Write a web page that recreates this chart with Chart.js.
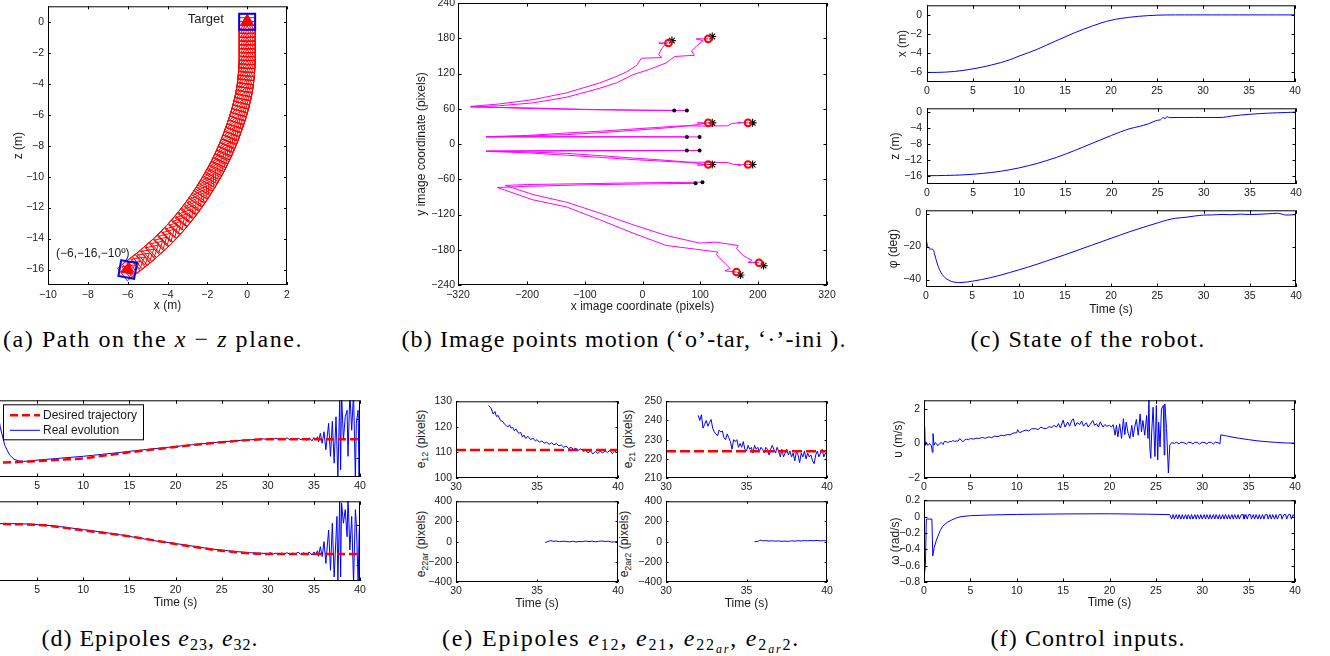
<!DOCTYPE html>
<html>
<head>
<meta charset="utf-8">
<title>Robot navigation results</title>
<script src="https://cdn.jsdelivr.net/npm/chart.js@4.4.1/dist/chart.umd.min.js"></script>
<style>
  html, body { margin:0; padding:0; background:#fff; }
  body { width:1330px; height:656px; overflow:hidden; position:relative; }
  canvas { position:absolute; }
  .cap { position:absolute; font-family:"Liberation Serif","Times New Roman",serif; font-size:24px; line-height:24px; white-space:nowrap; color:#000; }
  .cap sub { font-size:16px; line-height:0; vertical-align:-4px; }
  .cap sub sub { font-size:12px; vertical-align:-3px; }
  .ylab { position:absolute; font-family:"Liberation Sans",Arial,sans-serif; font-size:12px; line-height:14px; white-space:nowrap; color:#1a1a1a; transform:translate(-50%,-50%) rotate(-90deg); }
  .ylab sub { font-size:9px; line-height:0; vertical-align:-3px; }
</style>
</head>
<body>
<div class="cap" data-cx="153" data-w="300" data-base="347">(a) Path on the <i>x</i> − <i>z</i> plane.</div>
<div class="cap" data-cx="624" data-w="445" data-base="347">(b) Image points motion (‘o’-tar, ‘·’-ini ).</div>
<div class="cap" data-cx="1088" data-w="235" data-base="347">(c) State of the robot.</div>
<div class="cap" data-cx="150" data-w="217" data-base="646">(d) Epipoles <i>e</i><sub>23</sub>, <i>e</i><sub>32</sub>.</div>
<div class="cap" data-cx="621" data-w="358" data-base="646">(e) Epipoles <i>e</i><sub>12</sub>, <i>e</i><sub>21</sub>, <i>e</i><sub>22<sub><i>ar</i></sub></sub>, <i>e</i><sub>2<sub><i>ar</i></sub>2</sub>.</div>
<div class="cap" data-cx="1088" data-w="195" data-base="646">(f) Control inputs.</div>

<div class="ylab" style="left:421px;top:439px">e<sub>12</sub> (pixels)</div>
<div class="ylab" style="left:628px;top:439px">e<sub>21</sub> (pixels)</div>
<div class="ylab" style="left:421px;top:544px">e<sub>22ar</sub> (pixels)</div>
<div class="ylab" style="left:624px;top:544px">e<sub>2ar2</sub> (pixels)</div>

<script>
// ===================== DATA =====================
// (a) path on the x-z plane (robot positions)
const pathZ = [-16,-15.75,-15.5,-15.25,-15,-14.75,-14.5,-14.25,-14,-13.75,-13.5,-13.25,-13,-12.75,-12.5,-12.25,-12,-11.75,-11.5,-11.25,-11,-10.75,-10.5,-10.25,-10,-9.75,-9.5,-9.25,-9,-8.75,-8.5,-8.25,-8,-7.75,-7.5,-7.25,-7,-6.75,-6.5,-6.25,-6,-5.75,-5.5,-5.25,-5,-4.75,-4.5,-4.25,-4,-3.75,-3.5,-3.25,-3,-2.75,-2.5,-2.25,-2,-1.75,-1.5,-1.25,-1,-0.75,-0.5,-0.25,0];
const pathX = [-5.95,-5.7,-5.45,-5.2,-4.97,-4.75,-4.53,-4.32,-4.12,-3.93,-3.75,-3.57,-3.4,-3.24,-3.08,-2.93,-2.78,-2.64,-2.5,-2.37,-2.24,-2.12,-2.0,-1.88,-1.77,-1.66,-1.55,-1.45,-1.35,-1.26,-1.17,-1.08,-1.0,-0.92,-0.84,-0.77,-0.7,-0.63,-0.56,-0.5,-0.44,-0.38,-0.33,-0.28,-0.23,-0.19,-0.15,-0.12,-0.09,-0.07,-0.05,-0.03,-0.02,-0.01,0,0,0,0,0,0,0,0,0,0,0];
const poseEnds = [[-6,-16],[0,0]];
const poseStartHeading = 10;
const aTicksX = [-10,-8,-6,-4,-2,0,2];
const aTicksY = [-16,-14,-12,-10,-8,-6,-4,-2,0];

// (b) image points motion: initial dot -> ... -> target circle
const traj1 = [[55,57],[0,57.5],[-100,58.5],[-200,60.5],[-260,62.5],[-298,64],[-250,68],[-190,75.5],[-132,87],[-74,104],[-45,115],[-25,124],[-10,134],[-2,146],[33,147],[28,152],[33,162],[40,170],[28,172],[45,172]];
const traj2 = [[77,57],[0,57.5],[-100,59],[-200,61.5],[-298,63],[-250,65],[-190,70],[-132,79.5],[-74,95],[-45,104],[-16.5,118],[12,127],[41,138],[56,149],[90,151],[85,158],[95,168],[105,176],[93,179],[114,179]];
const traj3 = [[77,12],[0,12],[-100,12],[-200,12],[-271,12],[-200,13.5],[-132,16],[-70,19.5],[-16,23.3],[30,26.5],[70,30],[95,33],[108,35],[95,36],[114,36]];
const traj4 = [[99,12],[0,12.5],[-100,12.5],[-200,12.5],[-271,12.5],[-200,14.5],[-132,18.7],[-70,22],[-16,25.6],[30,28.5],[70,31],[110,30.5],[148,31],[155,35],[170,36],[165,36.5],[183,36]];
const traj5 = [[77,-11],[0,-11],[-100,-11],[-200,-11.5],[-271,-12],[-200,-13.5],[-132,-16],[-70,-20],[-16,-24],[30,-27],[70,-30],[95,-33],[108,-35],[95,-36],[114,-35]];
const traj6 = [[99,-11],[0,-11.5],[-100,-11.5],[-200,-12],[-271,-12.5],[-200,-15],[-132,-19],[-70,-23],[-16,-26.5],[30,-29],[70,-31],[110,-31],[148,-31.5],[155,-34],[170,-36],[165,-35.5],[183,-35]];
const traj7 = [[92,-67],[0,-68],[-100,-69.5],[-200,-72],[-252,-74],[-190,-95],[-132,-107],[-74,-129],[-16.5,-151.7],[41,-172.7],[92,-179],[131,-184],[128,-188],[140,-200],[152,-212],[143,-216],[163,-218]];
const traj8 = [[104,-65],[0,-66],[-100,-67.5],[-200,-69],[-238,-70.5],[-190,-86],[-132,-99],[-74,-117.6],[-16.5,-137.5],[41,-155.6],[99,-168.7],[127,-167],[166,-172.7],[163,-178],[175,-190],[190,-198],[183,-201.7],[202,-202]];
const targetsB = [[45,172],[114,179],[114,36],[183,36],[114,-35],[183,-35],[163,-218],[202,-202]];
const starsB = [[51,176],[121,183],[121,36],[191,36],[121,-35],[191,-35],[170,-223],[210,-207]];
const initialB = [[55,57],[77,57],[77,12],[99,12],[77,-11],[99,-11],[92,-67],[104,-65]];
const bTicksX = [-320,-200,-100,0,100,200,320];
const bTicksY = [-240,-180,-120,-60,0,60,120,180,240];

// (c) state of the robot
const timeX = [0,1,2,3,4,5,6,7,8,9,10,11,12,13,14,15,16,17,18,19,20,21,22,23,24,25,26,27,28,29,30,31,32,33,34,35,36,37,38,39,40];
const stateX = [-6.0,-6.0,-5.97,-5.9,-5.78,-5.63,-5.45,-5.23,-4.98,-4.68,-4.3,-3.95,-3.58,-3.15,-2.72,-2.3,-1.88,-1.5,-1.15,-0.82,-0.56,-0.38,-0.25,-0.15,-0.08,-0.03,-0.01,0,0,0,0,0,0,0,0,0,0,0,0,0,0];
const timeZ = [0,1,2,3,4,5,6,7,8,9,10,11,12,13,14,15,16,17,18,19,20,21,22,23,24,24.5,25,25.3,25.6,25.8,26.0,26.3,27,28,29,30,31,32,33,34,35,36,37,38,39,40];
const stateZ = [-15.9,-15.9,-15.85,-15.8,-15.7,-15.55,-15.35,-15.1,-14.8,-14.4,-13.95,-13.4,-12.8,-12.1,-11.35,-10.5,-9.6,-8.65,-7.7,-6.75,-5.8,-4.9,-4.1,-3.55,-2.9,-2.4,-2.0,-1.9,-1.3,-1.6,-1.1,-1.35,-1.3,-1.3,-1.3,-1.3,-1.3,-1.3,-0.95,-0.7,-0.5,-0.35,-0.22,-0.12,-0.05,0.05];
const timePhi = [0,0.1,0.3,0.5,0.8,0.9,1.2,1.5,2,2.5,3,3.5,4,5,6,7,8,9,10,11,12,13,14,15,16,17,18,19,20,21,22,23,24,25,26,27,28,29,30,31,32,33,34,35,36,37,38,39,40];
const statePhi = [-13.5,-18,-21,-21.5,-22,-24,-30,-34.5,-38.5,-40.5,-41.5,-41.8,-41.7,-41.0,-40,-38.8,-37.4,-35.8,-34.2,-32.5,-30.7,-28.8,-26.9,-25,-23,-21,-19,-17,-15,-13,-11,-9.2,-7.4,-5.7,-4.0,-2.8,-2.3,-1.5,-0.9,-0.8,-0.5,-0.7,-0.3,-0.6,-0.4,-0.1,0.2,-0.9,-0.6];
const timeTicks = [0,5,10,15,20,25,30,35,40];

// (d) epipoles e23, e32
const tDes23 = [0,2.5,5,7.5,10,12.5,15,17.5,20,22.5,25,27.5,30,35,40];
const des23 = [-12.9,-11.5,-8.4,-5,-1.4,6.5,14.5,21.5,28.5,35,40.5,45.5,48.5,48.5,48.5];
const real23 = [[0,300],[0.5,160],[1,80],[1.5,32],[2,8],[2.5,-4],[3,-8],[3.5,-9],[4,-9],[5,-6],[6,-4],[7,-2],[8,0],[9,2],[10,4],[11,6.5],[12,9],[13,11.5],[14,14],[15,17],[16,19.5],[17,22],[18,24.5],[19,27],[20,29.5],[21,32],[22,34.5],[23,37],[24,39.5],[25,41.5],[26,43.5],[27,45.5],[28,47],[29,48],[29.5,49.5],[30,48],[30.3,50],[30.6,48.5],[30.9,51],[31.2,47.5],[31.5,50],[31.8,48],[32.1,52],[32.4,47],[32.7,50],[33.0,48],[33.3,51],[33.6,47.5],[33.9,50.5],[34.2,46],[34.5,52],[34.8,44],[35.0,53],[35.2,47],[35.4,55],[35.5,42],[35.7,64],[35.9,38],[36.1,68],[36.3,21],[36.6,90],[36.8,4],[37.0,95],[37.2,-14],[37.4,107],[37.6,-48],[37.8,150],[37.9,-31],[38.0,170],[38.2,47],[38.4,107],[38.6,124],[38.7,4],[38.9,170],[39.1,72],[39.3,170],[39.5,-60],[39.6,90],[39.8,124],[39.9,-60],[40,100]];
const tDes32 = [0,5,10,15,20,25,30,35,40];
const des32 = [103,101,87,72,53,36,28,28,28];
const real32 = [[0,104],[2,104],[4,103],[6,100],[8,95],[10,89],[12,83],[14,76],[16,68],[18,60],[20,54],[22,47],[24,40],[26,35],[28,31],[30,29],[30.3,31],[30.6,28],[30.9,30],[31.2,27],[31.5,30],[31.8,28],[32.1,31],[32.4,27],[32.7,30],[33.0,28],[33.3,32],[33.6,27],[33.9,31],[34.2,26],[34.5,33],[34.8,25],[35.0,33],[35.2,27],[35.4,36],[35.5,22],[35.7,46],[35.9,21],[36.1,59],[36.3,4],[36.6,88],[36.8,-13],[37.0,105],[37.2,-30],[37.5,122],[37.6,-40],[37.8,160],[37.9,-30],[38.0,156],[38.2,105],[38.4,139],[38.6,71],[38.7,170],[38.9,38],[39.1,122],[39.3,-45],[39.5,139],[39.6,105],[39.8,-45],[39.9,80],[40,110]];
const dTicksY1 = [0,100];
const dTicksY2 = [0,100];

// (e) epipoles e12, e21, e22ar, e2ar2
const eTicksX = [30,35,40];
const des12 = 111;
const des21 = 224;
const e12 = [[32.0,128.3],[32.15,127.5],[32.3,125],[32.4,126],[32.5,124],[32.6,124.5],[32.75,122.5],[32.9,122],[33.0,121],[33.1,120.5],[33.2,120],[33.3,120.8],[33.4,119.5],[33.5,119.8],[33.6,118.5],[33.7,119.2],[33.8,118],[33.9,117.5],[34.0,117.8],[34.1,116],[34.2,116.8],[34.3,115.5],[34.45,116.3],[34.6,115],[34.75,115.6],[34.9,114.5],[35.0,115],[35.15,114],[35.3,114.5],[35.45,113.6],[35.6,114],[35.75,113.2],[35.9,113.8],[36.05,113],[36.2,113.5],[36.35,112.6],[36.5,112.9],[36.65,112],[36.8,112.5],[36.95,111.5],[37.1,112],[37.25,111.2],[37.4,111.6],[37.55,110.8],[37.7,111.4],[37.85,110.5],[38.0,111],[38.15,109.8],[38.3,110.6],[38.45,109.4],[38.6,110.4],[38.75,109.6],[38.9,110.5],[39.05,109.8],[39.2,110.6],[39.35,110],[39.5,110.8],[39.65,109.5],[39.8,110.7],[39.9,110],[40.0,110.3]];
const e21 = [[32.0,242.7],[32.1,240],[32.2,243],[32.3,236],[32.4,238],[32.5,240],[32.6,237],[32.7,239],[32.8,240.5],[32.9,236],[33.0,234],[33.1,233],[33.2,232],[33.3,235],[33.4,234],[33.5,234.5],[33.6,231],[33.7,230],[33.8,233],[33.9,231],[34.0,229],[34.1,225],[34.2,230],[34.3,229],[34.4,230],[34.5,226],[34.6,228],[34.7,226],[34.8,229],[34.9,225],[35.0,224],[35.1,227],[35.2,225],[35.3,226],[35.4,223],[35.5,227],[35.6,225],[35.7,226],[35.8,224],[35.9,226],[36.0,225],[36.1,223],[36.2,226],[36.3,225],[36.4,222],[36.5,225],[36.6,227],[36.7,225],[36.8,223],[36.9,226],[37.0,224],[37.1,221],[37.2,225],[37.3,221],[37.4,223],[37.5,225],[37.6,222],[37.7,224],[37.8,221],[37.9,223],[38.0,219],[38.1,224],[38.2,222],[38.3,218],[38.4,223],[38.5,221],[38.6,224],[38.7,220],[38.8,223],[38.9,221],[39.0,222],[39.1,219],[39.2,217.5],[39.3,222],[39.4,224],[39.5,221],[39.6,223],[39.7,225],[39.8,221],[39.9,223],[40.0,222]];
const e22ar = [[35.5,-8],[35.6,-3],[35.75,5],[35.85,12],[36.0,3],[36.2,6],[36.4,0],[36.6,4],[36.8,2],[37.0,-2],[37.2,4],[37.4,-3],[37.6,2],[37.8,0],[38.0,6],[38.2,1],[38.4,5],[38.6,-1],[38.8,3],[39.0,6],[39.2,2],[39.4,4],[39.6,-4],[39.8,-2],[40.0,3]];
const e2ar2 = [[35.5,0],[35.7,2],[35.8,12],[35.9,15],[36.0,8],[36.2,10],[36.4,6],[36.6,8],[36.8,5],[37.0,7],[37.2,3],[37.4,6],[37.6,2],[37.8,8],[38.0,5],[38.2,9],[38.4,7],[38.6,10],[38.8,8],[39.0,11],[39.2,9],[39.4,12],[39.6,8],[39.8,10],[40.0,7]];

// (f) control inputs
const vInput = [[0,0],[0.07,0.95],[0.12,-0.1],[0.2,0.1],[0.3,-0.05],[0.45,-0.1],[0.6,0],[0.8,-0.13],[0.9,-0.51],[0.97,0.57],[1.08,-0.1],[1.2,0.05],[1.33,0],[1.5,-0.13],[1.7,0],[1.87,0.06],[2.05,-0.06],[2.2,0.12],[2.4,0.1],[2.6,0.05],[2.77,0.13],[2.95,0.1],[3.1,0.17],[3.3,0.12],[3.5,0.15],[3.67,0.13],[3.85,0.29],[4.0,0.2],[4.2,0.1],[4.4,0.2],[4.57,0.25],[4.8,0.22],[5,0.29],[5.3,0.25],[5.6,0.3],[6,0.3],[6.3,0.35],[6.6,0.3],[7.0,0.38],[7.3,0.34],[7.6,0.42],[8.0,0.4],[8.3,0.48],[8.6,0.45],[9.0,0.52],[9.3,0.5],[9.6,0.6],[10.0,0.62],[10.1,0.8],[10.3,0.62],[10.6,0.7],[11.0,0.78],[11.3,0.72],[11.6,0.85],[12.0,0.86],[12.3,0.8],[12.6,0.95],[12.9,0.88],[13.2,0.86],[13.5,0.98],[13.8,0.92],[14.0,1.05],[14.3,0.95],[14.5,1.15],[14.7,0.9],[15.0,1.35],[15.2,0.95],[15.5,1.24],[15.7,1.0],[15.9,1.3],[16.1,1.43],[16.3,1.0],[16.5,1.2],[16.8,1.1],[17.0,1.3],[17.2,1.0],[17.5,1.2],[17.7,0.95],[17.9,1.1],[18.2,1.33],[18.4,1.05],[18.6,1.15],[18.8,0.95],[19.0,1.25],[19.3,0.95],[19.5,1.1],[19.7,1.0],[20.0,1.05],[20.2,0.95],[20.4,1.09],[20.6,0.48],[20.75,1.05],[20.9,0.38],[21.1,1.14],[21.3,0.29],[21.5,1.43],[21.65,0.51],[21.8,1.24],[22.0,0.6],[22.2,0.29],[22.4,1.05],[22.55,0.38],[22.7,0.9],[22.9,1.39],[23.1,0.48],[23.3,1.71],[23.45,0.67],[23.6,1.33],[23.8,0.48],[24.0,1.62],[24.15,0.29],[24.25,2.6],[24.35,-0.29],[24.45,-0.86],[24.55,0.67],[24.7,2.1],[24.9,-0.76],[25.05,2.2],[25.2,-0.95],[25.3,1.24],[25.45,-0.2],[25.6,2.0],[25.8,2.2],[25.9,-0.67],[25.97,2.29],[26.15,0.86],[26.35,-1.71],[26.5,-0.1],[26.7,0.05],[27.0,0.0],[27.2,0.07],[27.5,-0.02],[27.7,0.07],[28.0,0.05],[28.3,-0.03],[28.5,0.07],[28.8,0.05],[29.0,-0.03],[29.2,0.07],[29.5,0.06],[29.7,-0.03],[30.0,0.07],[30.3,0.04],[30.5,-0.03],[30.7,0.07],[31.0,0.06],[31.2,-0.03],[31.4,0.07],[31.7,0.05],[31.9,-0.04],[32.0,0.5],[32.5,0.45],[33,0.39],[34,0.3],[35,0.22],[36,0.15],[37,0.1],[38,0.06],[39,0.03],[40,0.02]];
const omegaInput = [[0,-0.75],[0.15,-0.6],[0.25,-0.03],[0.85,-0.03],[0.95,-0.48],[1.1,-0.38],[1.3,-0.3],[1.5,-0.24],[1.75,-0.17],[2.0,-0.12],[2.5,-0.07],[3.0,-0.04],[3.5,-0.015],[4,0],[5,0.012],[7,0.02],[10,0.027],[15,0.033],[20,0.035],[24,0.03],[26.5,0.025],[26.7,-0.03],[26.85,0.025],[27.0,-0.03],[27.2,0.025],[27.35,-0.03],[27.5,0.025],[27.7,-0.03],[27.85,0.025],[28.0,-0.03],[28.2,0.025],[28.35,-0.03],[28.5,0.025],[28.7,-0.03],[28.85,0.025],[29.0,-0.03],[29.2,0.025],[29.35,-0.03],[29.5,0.025],[29.7,-0.03],[29.85,0.025],[30.0,-0.03],[30.2,0.025],[30.35,-0.03],[30.5,0.025],[30.7,-0.03],[30.85,0.025],[31.0,-0.03],[31.2,0.025],[31.35,-0.03],[31.5,0.025],[31.7,-0.03],[31.85,0.025],[32.0,-0.03],[32.2,0.025],[32.35,-0.03],[32.5,0.025],[32.7,-0.03],[32.85,0.025],[33.0,-0.03],[33.2,0.025],[33.35,-0.03],[33.5,0.025],[33.7,-0.03],[33.85,0.025],[34.0,-0.03],[34.2,0.025],[34.4,0.025],[34.5,-0.03],[34.7,0.025],[34.85,-0.03],[35.0,0.025],[35.2,0.025],[35.3,-0.03],[35.5,0.025],[35.65,-0.03],[35.8,0.025],[36.0,-0.03],[36.15,0.025],[36.3,-0.03],[36.5,0.025],[36.65,-0.03],[36.8,0.025],[37.0,0.025],[37.1,-0.03],[37.3,0.025],[37.45,-0.03],[37.6,0.025],[37.8,-0.03],[37.95,0.025],[38.1,-0.03],[38.3,0.025],[38.5,0.025],[38.6,-0.03],[38.8,0.025],[39.0,0.025],[39.1,-0.03],[39.3,0.025],[39.5,0.025],[39.6,-0.03],[39.8,0.025],[40.0,-0.01]];
const vTicksY = [-2,0,2];
const wTicksY = [-0.8,-0.6,-0.4,-0.2,0,0.2];

// ===================== DRAWING =====================
const SANS = '"Liberation Sans", Arial, Helvetica, sans-serif';
const TXT = '#1a1a1a';
const BLUE = '#0000ff', RED = '#ff0000', MAG = '#ff00ff';
Chart.defaults.font.family = SANS;

function fmtTick(v) {
  const s = String(Math.round(v * 1000) / 1000);
  return v < 0 ? '\u2212' + s.slice(1) : s;
}
const xy = (xs, ys) => xs.map((x, i) => ({x: x, y: ys[i]}));
const pairs = arr => arr.map(p => ({x: p[0], y: p[1]}));
function series(points, extra) {
  return Object.assign({data: points, showLine: true, pointRadius: 0, pointHoverRadius: 0,
    borderColor: BLUE, backgroundColor: BLUE, borderWidth: 1, borderJoinStyle: 'round',
    fill: false, clip: 0, tension: 0}, extra || {});
}

const boxTicks = {
  id: 'boxTicks',
  afterDraw(chart, args, o) {
    const {ctx, chartArea: ca, scales} = chart;
    const L = o.len || 3.5;
    ctx.save();
    ctx.strokeStyle = '#000';
    ctx.lineWidth = 1;
    ctx.beginPath();
    scales.x.ticks.forEach(t => {
      const p = Math.round(scales.x.getPixelForValue(t.value)) + 0.5;
      ctx.moveTo(p, ca.bottom); ctx.lineTo(p, ca.bottom - L);
      ctx.moveTo(p, ca.top); ctx.lineTo(p, ca.top + L);
    });
    scales.y.ticks.forEach(t => {
      const p = Math.round(scales.y.getPixelForValue(t.value)) + 0.5;
      ctx.moveTo(ca.left, p); ctx.lineTo(ca.left + L, p);
      ctx.moveTo(ca.right, p); ctx.lineTo(ca.right - L, p);
    });
    ctx.stroke();
    ctx.strokeRect(ca.left + 0.5, ca.top + 0.5, ca.right - ca.left - 1, ca.bottom - ca.top - 1);
    ctx.restore();
  }
};
const extras = {
  id: 'extras',
  afterDraw(chart, args, o) {
    const {ctx, chartArea: ca, scales} = chart;
    ctx.save();
    (o.texts || []).forEach(t => {
      ctx.font = (t.size || 12) + 'px ' + SANS;
      ctx.fillStyle = TXT; ctx.textAlign = 'center'; ctx.textBaseline = 'middle';
      ctx.fillText(t.text, scales.x.getPixelForValue(t.x), scales.y.getPixelForValue(t.y));
    });
    if (o.legend) {
      const L = o.legend;
      const bx = ca.left + L.dx, by = ca.top + L.dy;
      ctx.fillStyle = '#fff'; ctx.fillRect(bx, by, L.w, L.h);
      ctx.strokeStyle = '#000'; ctx.lineWidth = 1; ctx.strokeRect(bx + 0.5, by + 0.5, L.w, L.h);
      chart.data.datasets.filter(d => d.label).forEach((d, i) => {
        const yy = by + L.row0 + i * L.rowH;
        ctx.beginPath();
        ctx.setLineDash(d.borderDash || []);
        ctx.strokeStyle = d.borderColor; ctx.lineWidth = d.borderWidth;
        ctx.moveTo(bx + L.lx0, yy); ctx.lineTo(bx + L.lx1, yy); ctx.stroke();
        ctx.setLineDash([]);
        ctx.fillStyle = TXT; ctx.font = '12px ' + SANS; ctx.textAlign = 'left'; ctx.textBaseline = 'middle';
        ctx.fillText(d.label, bx + L.tx, yy);
      });
    }
    ctx.restore();
  }
};
Chart.register(boxTicks, extras);

function makeChart(c) {
  const PT = 10, PR = 20;
  const w = c.yw + (c.r - c.l) + PR;
  const h = PT + (c.b - c.t) + c.xh;
  const left = c.l - c.yw, top = c.t - PT;
  const cv = document.createElement('canvas');
  cv.width = w; cv.height = h;
  cv.style.left = left + 'px'; cv.style.top = top + 'px';
  cv.style.width = w + 'px'; cv.style.height = h + 'px';
  document.body.appendChild(cv);
  const tickFont = {family: SANS, size: 10.5};
  const titleFont = {family: SANS, size: 12};
  const noGrid = {display: false, drawTicks: false, tickLength: 0, drawOnChartArea: false};
  new Chart(cv, {
    type: 'scatter',
    data: {datasets: c.datasets},
    options: {
      responsive: false, animation: false, devicePixelRatio: 1, events: [],
      layout: {padding: {left: 0, top: PT, right: PR, bottom: 0}},
      plugins: {
        legend: {display: false}, tooltip: {enabled: false},
        boxTicks: {len: c.tickLen || 3.5},
        extras: {texts: c.texts || [], legend: c.legend || null}
      },
      scales: {
        x: {
          type: 'linear', position: 'bottom', min: c.xMin, max: c.xMax,
          afterBuildTicks: s => { s.ticks = c.xTicks.map(v => ({value: v})); },
          afterFit: s => { s.height = c.xh; },
          grid: noGrid, border: {display: false},
          ticks: {font: tickFont, color: TXT, padding: c.xPad == null ? 3 : c.xPad, maxRotation: 0, minRotation: 0, autoSkip: false, callback: v => fmtTick(v)},
          title: c.xTitle ? {display: true, text: c.xTitle, font: titleFont, color: TXT,
            padding: {top: 0, bottom: (top + h) - c.xTitleY - 7.2}} : {display: false}
        },
        y: {
          type: 'linear', position: 'left', min: c.yMin, max: c.yMax,
          afterBuildTicks: s => { s.ticks = c.yTicks.map(v => ({value: v})); },
          afterFit: s => { s.width = c.yw; },
          grid: noGrid, border: {display: false},
          ticks: {font: tickFont, color: TXT, padding: c.yPad == null ? 4 : c.yPad, autoSkip: false, callback: v => fmtTick(v)},
          title: c.yTitle ? {display: true, text: c.yTitle, font: titleFont, color: TXT,
            padding: {top: c.yTitleX - left - 7.2, bottom: 0}} : {display: false}
        }
      }
    }
  });
}

// ---------- (a) ----------
function pathHeading(chart, i) {
  const xs = chart.scales.x, ys = chart.scales.y;
  if (!xs || !ys) return 0;
  const a = Math.max(0, i - 1), b = Math.min(pathX.length - 1, i + 1);
  const dx = xs.getPixelForValue(pathX[b]) - xs.getPixelForValue(pathX[a]);
  const dy = ys.getPixelForValue(pathZ[b]) - ys.getPixelForValue(pathZ[a]);
  const r = Math.atan2(dx, -dy) * 180 / Math.PI;
  return isFinite(r) ? r : 0;
}
const pathPts = xy(pathX, pathZ);
const endPts = pairs(poseEnds);
const endRot = ctx => ctx.dataIndex === 0 ? poseStartHeading : 0;
makeChart({
  l: 48, t: 3, r: 287, b: 285, yw: 48, xh: 30,
  xMin: -10, xMax: 2, xTicks: aTicksX, yMin: -17, yMax: 1, yTicks: aTicksY,
  xTitle: 'x (m)', xTitleY: 306, yTitle: 'z (m)', yTitleX: 18.5, xPad: 4, yPad: 4, tickLen: 3,
  texts: [{text: 'Target', x: -2.08, y: 0.13, size: 13}, {text: '(\u22126,\u221216,\u221210\u00ba)', x: -7.75, y: -15.0, size: 12}],
  datasets: [
    {data: endPts, showLine: false, pointStyle: 'rect', pointRadius: 11.3, pointBorderColor: BLUE, pointBackgroundColor: 'rgba(0,0,0,0)', pointBorderWidth: 2, pointRotation: endRot, clip: false},
    {data: endPts, showLine: false, pointStyle: 'triangle', pointRadius: 7.5, pointBorderColor: RED, pointBackgroundColor: RED, pointBorderWidth: 1, pointRotation: endRot, clip: false},
    {data: pathPts, showLine: false, pointStyle: 'triangle', pointRadius: 7.5, pointBorderColor: RED, pointBackgroundColor: 'rgba(0,0,0,0)', pointBorderWidth: 1, pointRotation: ctx => pathHeading(ctx.chart, ctx.dataIndex), clip: false},
    {data: pathPts, showLine: false, pointStyle: 'rect', pointRadius: 11.3, pointBorderColor: RED, pointBackgroundColor: 'rgba(0,0,0,0)', pointBorderWidth: 1, pointRotation: ctx => pathHeading(ctx.chart, ctx.dataIndex), clip: false}
  ]
});

// ---------- (b) ----------
const trajs = [traj1, traj2, traj3, traj4, traj5, traj6, traj7, traj8];
makeChart({
  l: 458, t: 3, r: 827, b: 285, yw: 60, xh: 30,
  xMin: -320, xMax: 320, xTicks: bTicksX, yMin: -240, yMax: 240, yTicks: bTicksY,
  xTitle: 'x image coordinate (pixels)', xTitleY: 306.7, yTitle: 'y image coordinate (pixels)', yTitleX: 421.7, xPad: 4, yPad: 3,
  datasets: [
    {data: pairs(targetsB), showLine: false, pointStyle: 'circle', pointRadius: 3.3, pointBorderColor: RED, pointBackgroundColor: 'rgba(0,0,0,0)', pointBorderWidth: 2},
    {data: pairs(starsB), showLine: false, pointStyle: 'star', pointRadius: 4, pointBorderColor: '#000', pointBorderWidth: 1.1},
    {data: pairs(initialB), showLine: false, pointStyle: 'circle', pointRadius: 2, pointBorderColor: '#000', pointBackgroundColor: '#000', pointBorderWidth: 0}
  ].concat(trajs.map(tr => series(pairs(tr), {borderColor: MAG, backgroundColor: MAG})))
});

// ---------- (c) ----------
makeChart({
  l: 927, t: 4, r: 1295, b: 82, yw: 50, xh: 22,
  xMin: 0, xMax: 40, xTicks: timeTicks, yMin: -7, yMax: 1, yTicks: [-6,-4,-2,0],
  yTitle: 'x (m)', yTitleX: 902.3, xPad: 2.5, yPad: 5,
  datasets: [series(xy(timeX, stateX), {cubicInterpolationMode: 'monotone'})]
});
makeChart({
  l: 927, t: 107, r: 1296, b: 184, yw: 50, xh: 22,
  xMin: 0, xMax: 40, xTicks: timeTicks, yMin: -18, yMax: 1, yTicks: [-16,-12,-8,-4,0],
  yTitle: 'z (m)', yTitleX: 896, xPad: 2.5, yPad: 5,
  datasets: [series(xy(timeZ, stateZ), {cubicInterpolationMode: 'monotone'})]
});
makeChart({
  l: 926, t: 209, r: 1296, b: 287, yw: 50, xh: 32,
  xMin: 0, xMax: 40, xTicks: timeTicks, yMin: -44.5, yMax: 2, yTicks: [-40,-20,0],
  yTitle: '\u03c6 (deg)', yTitleX: 894, xTitle: 'Time (s)', xTitleY: 310, xPad: 2.5, yPad: 5,
  datasets: [series(xy(timePhi, statePhi), {cubicInterpolationMode: 'monotone'})]
});

// ---------- (d) ----------
const dLegend = {dx: 12, dy: 4, w: 140, h: 35, row0: 11, rowH: 15, lx0: 7, lx1: 37, tx: 40};
makeChart({
  l: -9, t: 400, r: 360, b: 477, yw: 40, xh: 22,
  xMin: 0, xMax: 40, xTicks: timeTicks, yMin: -50, yMax: 150, yTicks: dTicksY1, xPad: 3,
  legend: dLegend,
  datasets: [
    series(xy(tDes23, des23), {label: 'Desired trajectory', borderColor: RED, borderWidth: 2.5, borderDash: [8, 4], cubicInterpolationMode: 'monotone'}),
    series(pairs(real23), {label: 'Real evolution', borderColor: BLUE, borderWidth: 1})
  ]
});
makeChart({
  l: -9, t: 501, r: 360, b: 581, yw: 40, xh: 32,
  xMin: 0, xMax: 40, xTicks: timeTicks, yMin: -40, yMax: 160, yTicks: dTicksY2, xPad: 3,
  xTitle: 'Time (s)', xTitleY: 602.3,
  datasets: [
    series(xy(tDes32, des32), {borderColor: RED, borderWidth: 2.5, borderDash: [8, 4], cubicInterpolationMode: 'monotone'}),
    series(pairs(real32), {borderColor: BLUE, borderWidth: 1})
  ]
});

// ---------- (e) ----------
makeChart({
  l: 456, t: 401, r: 618, b: 478, yw: 40, xh: 22,
  xMin: 30, xMax: 40, xTicks: eTicksX, yMin: 100, yMax: 130, yTicks: [100,110,120,130], xPad: 3, yPad: 4, tickLen: 2.5,
  datasets: [
    series([{x: 30, y: des12}, {x: 40, y: des12}], {borderColor: RED, borderWidth: 2.5, borderDash: [10, 4]}),
    series(pairs(e12))
  ]
});
makeChart({
  l: 666, t: 401, r: 827, b: 478, yw: 40, xh: 22,
  xMin: 30, xMax: 40, xTicks: eTicksX, yMin: 210, yMax: 250, yTicks: [210,220,230,240,250], xPad: 3, yPad: 4, tickLen: 2.5,
  datasets: [
    series([{x: 30, y: des21}, {x: 40, y: des21}], {borderColor: RED, borderWidth: 2.5, borderDash: [10, 4]}),
    series(pairs(e21))
  ]
});
makeChart({
  l: 456, t: 501, r: 618, b: 582, yw: 40, xh: 32,
  xMin: 30, xMax: 40, xTicks: eTicksX, yMin: -400, yMax: 400, yTicks: [-400,-200,0,200,400], xPad: 3, yPad: 4, tickLen: 2.5,
  xTitle: 'Time (s)', xTitleY: 603.7,
  datasets: [series(pairs(e22ar))]
});
makeChart({
  l: 666, t: 501, r: 827, b: 582, yw: 40, xh: 32,
  xMin: 30, xMax: 40, xTicks: eTicksX, yMin: -400, yMax: 400, yTicks: [-400,-200,0,200,400], xPad: 3, yPad: 4, tickLen: 2.5,
  xTitle: 'Time (s)', xTitleY: 603.7,
  datasets: [series(pairs(e2ar2))]
});

// ---------- (f) ----------
makeChart({
  l: 924, t: 400, r: 1295, b: 478, yw: 50, xh: 22,
  xMin: 0, xMax: 40, xTicks: timeTicks, yMin: -2, yMax: 2.5, yTicks: vTicksY,
  yTitle: '\u03c5 (m/s)', yTitleX: 898.3, xPad: 2.5, yPad: 4,
  datasets: [series(pairs(vInput))]
});
makeChart({
  l: 924, t: 500, r: 1295, b: 582, yw: 50, xh: 32,
  xMin: 0, xMax: 40, xTicks: timeTicks, yMin: -0.8, yMax: 0.2, yTicks: wTicksY,
  yTitle: '\u03c9 (rad/s)', yTitleX: 896, xTitle: 'Time (s)', xTitleY: 602.7, xPad: 2.5, yPad: 4,
  datasets: [series(pairs(omegaInput))]
});

// ---------- captions ----------
document.querySelectorAll('.cap').forEach(el => {
  const n = el.textContent.length;
  const w0 = el.getBoundingClientRect().width;
  const tw = +el.dataset.w;
  el.style.letterSpacing = ((tw - w0) / n) + 'px';
  el.style.left = (+el.dataset.cx - tw / 2) + 'px';
  el.style.top = (+el.dataset.base - 20.1) + 'px';
});
</script>
</body>
</html>
